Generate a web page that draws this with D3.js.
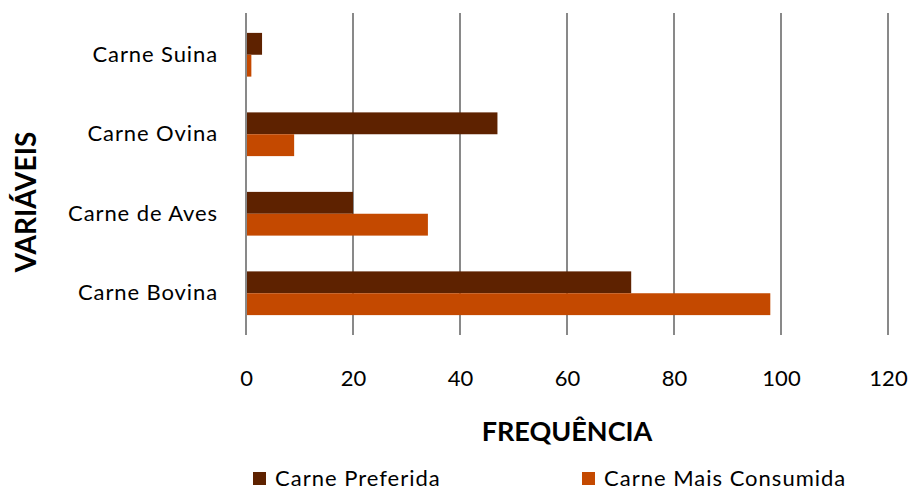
<!DOCTYPE html>
<html><head><meta charset="utf-8">
<script src="https://cdn.jsdelivr.net/npm/d3@7"></script>
<style>body{margin:0;background:#fff;} text{font-family:Lato,"Open Sans",sans-serif;}</style>
</head><body>
<svg id="c" width="912" height="491"></svg>
<script>
const categories = ["Carne Suina","Carne Ovina","Carne de Aves","Carne Bovina"];
const seriesNames = ["Carne Preferida","Carne Mais Consumida"];
const preferida = [3, 47, 20, 72];
const consumida = [1, 9, 34, 98];
const xTicks = [0,20,40,60,80,100,120];
const colors = ["#5E2200","#C44900"];

const svg = d3.select("#c");
const m = {left:246, right:888, top:15, bottom:333};
const x = d3.scaleLinear().domain([0,120]).range([m.left, m.right]);
const y = d3.scaleBand().domain(categories).range([m.top, m.bottom]).paddingInner(0.45).paddingOuter(0.225);
const ys = d3.scaleBand().domain(seriesNames).range([0, y.bandwidth()]);

// gridlines
svg.append("g").selectAll("line").data(xTicks).join("line")
  .attr("x1", d=>x(d)).attr("x2", d=>x(d))
  .attr("y1", m.top-2).attr("y2", m.bottom+2)
  .attr("stroke","#898989").attr("stroke-width",2);

const data = [preferida, consumida];
data.forEach((vals, si) => {
  svg.append("g").selectAll("rect").data(categories).join("rect")
    .attr("x", x(0)+1)
    .attr("y", (c)=> y(c) + ys(seriesNames[si]))
    .attr("width", (c,i)=> x(vals[i]) - x(0) - 1)
    .attr("height", ys.bandwidth())
    .attr("fill", colors[si]);
});

// x tick labels
const xAxis = d3.axisBottom(x).tickValues(xTicks).tickSize(0).tickPadding(0);
const gx = svg.append("g").attr("transform",`translate(0,${m.bottom+53})`).call(xAxis);
gx.select(".domain").remove();
gx.selectAll("text").attr("font-size",22).attr("fill","#000").attr("font-family","Lato").attr("dy","0");

// y labels
const yAxis = d3.axisLeft(y).tickSize(0).tickPadding(0);
const gy = svg.append("g").attr("transform",`translate(${m.left-28},0)`).call(yAxis);
gy.select(".domain").remove();
gy.selectAll("text").attr("font-size",22).attr("fill","#000").attr("font-family","Lato")
  .attr("letter-spacing","0.9px");

// titles
svg.append("text").attr("x",567).attr("y",441).attr("text-anchor","middle")
  .attr("font-size",27).attr("font-weight","bold").text("FREQUÊNCIA");
svg.append("text").attr("transform","translate(36,202) rotate(-90)").attr("text-anchor","middle")
  .attr("font-size",28).attr("font-weight","bold").text("VARIÁVEIS");

// legend
const legX = [253, 582];
seriesNames.forEach((n,i)=>{
  svg.append("rect").attr("x",legX[i]).attr("y",472).attr("width",13).attr("height",13).attr("fill",colors[i]);
  svg.append("text").attr("x",legX[i]+22).attr("y",486).attr("font-size",22)
    .attr("letter-spacing","1px").text(n);
});
</script>
</body></html>
